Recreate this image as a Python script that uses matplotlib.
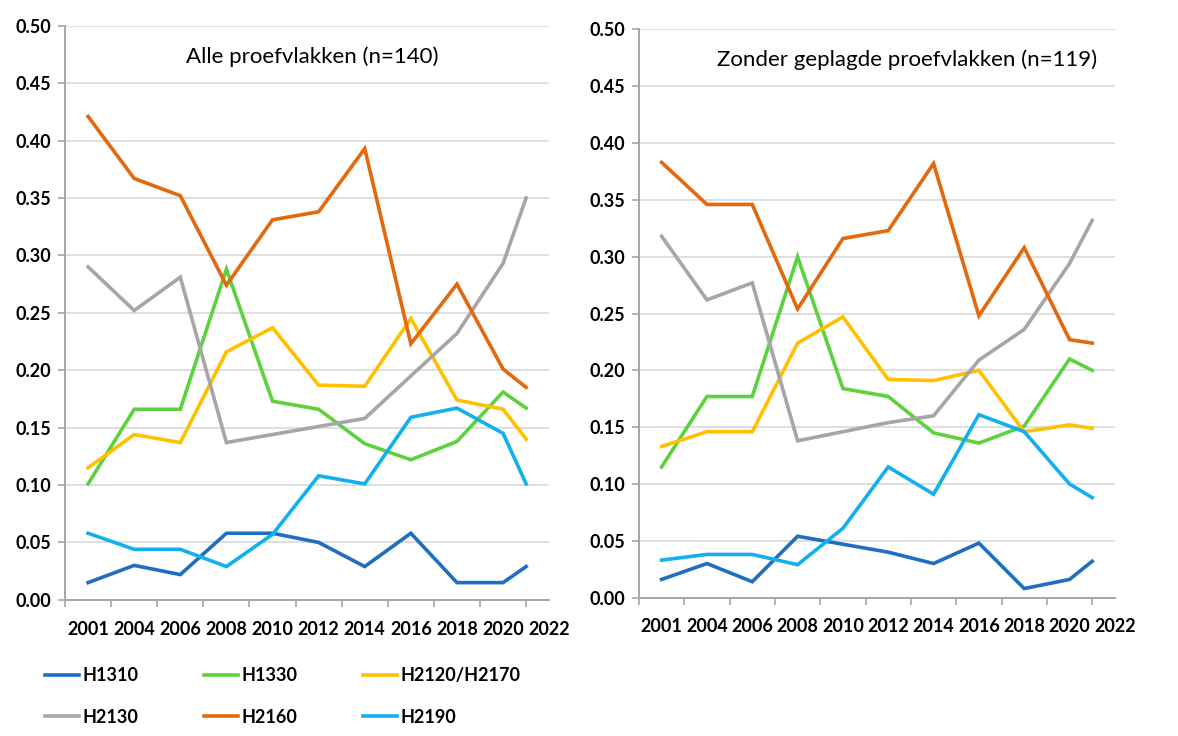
import numpy as np
import matplotlib.pyplot as plt

plt.rcParams['font.family'] = ['Lato', 'DejaVu Sans']

# x axis labels (category slots) and the years that were actually surveyed
label_years = [2001, 2004, 2006, 2008, 2010, 2012, 2014, 2016, 2018, 2020, 2022]
survey_years = [2001, 2004, 2006, 2008, 2010, 2012, 2014, 2016, 2018, 2020, 2021]

series_names = ["H1310", "H1330", "H2120/H2170", "H2130", "H2160", "H2190"]

# Alle proefvlakken (n=140)
all_h1310 = [0.015, 0.030, 0.022, 0.058, 0.058, 0.050, 0.029, 0.058, 0.015, 0.015, 0.029]
all_h1330 = [0.101, 0.166, 0.166, 0.288, 0.173, 0.166, 0.136, 0.122, 0.138, 0.181, 0.167]
all_h2120 = [0.115, 0.144, 0.137, 0.216, 0.237, 0.187, 0.186, 0.245, 0.174, 0.166, 0.140]
all_h2130 = [0.290, 0.252, 0.281, 0.137, 0.144, 0.151, 0.158, 0.195, 0.232, 0.293, 0.350]
all_h2160 = [0.421, 0.367, 0.352, 0.274, 0.331, 0.338, 0.393, 0.223, 0.275, 0.201, 0.185]
all_h2190 = [0.058, 0.044, 0.044, 0.029, 0.057, 0.108, 0.101, 0.159, 0.167, 0.145, 0.101]

# Zonder geplagde proefvlakken (n=119)
zg_h1310 = [0.016, 0.030, 0.014, 0.054, 0.047, 0.040, 0.030, 0.048, 0.008, 0.016, 0.032]
zg_h1330 = [0.115, 0.177, 0.177, 0.300, 0.184, 0.177, 0.145, 0.136, 0.151, 0.210, 0.200]
zg_h2120 = [0.133, 0.146, 0.146, 0.224, 0.247, 0.192, 0.191, 0.200, 0.146, 0.152, 0.149]
zg_h2130 = [0.318, 0.262, 0.277, 0.138, 0.146, 0.154, 0.160, 0.209, 0.236, 0.294, 0.332]
zg_h2160 = [0.383, 0.346, 0.346, 0.254, 0.316, 0.323, 0.382, 0.248, 0.308, 0.227, 0.224]
zg_h2190 = [0.033, 0.038, 0.038, 0.029, 0.061, 0.115, 0.091, 0.161, 0.146, 0.100, 0.088]

colors = ["#1f6fc0", "#5cd23e", "#ffc000", "#a6a6a6", "#e2690d", "#12b0ee"]

panels = [
    ("Alle proefvlakken (n=140)",
     [all_h1310, all_h1330, all_h2120, all_h2130, all_h2160, all_h2190]),
    ("Zonder geplagde proefvlakken (n=119)",
     [zg_h1310, zg_h1330, zg_h2120, zg_h2130, zg_h2160, zg_h2190]),
]

fig = plt.figure(figsize=(11.78, 7.36), dpi=100)
axes_rects = [[0.0552, 0.185, 0.411, 0.780], [0.5424, 0.188, 0.404, 0.772]]
xlims = [10.28, 10.06]
title_x = [0.51, 0.563]

# label slots sit in the middle of each category; years are placed on that scale
slots = np.arange(len(label_years)) + 0.5
xs = np.interp(survey_years, label_years, slots)

handles = []
for i, (title, data) in enumerate(panels):
    ax = fig.add_axes(axes_rects[i])
    for name, vals, c in zip(series_names, data, colors):
        ln, = ax.plot(xs, vals, color=c, lw=2.6, solid_joinstyle='miter', label=name)
        if i == 0:
            handles.append(ln)

    ax.set_ylim(0, 0.5)
    ax.set_xlim(0, xlims[i])
    ax.set_yticks(np.arange(0, 0.51, 0.05))
    ax.set_yticklabels([f"{v:.2f}" for v in np.arange(0, 0.51, 0.05)],
                       fontsize=13, fontweight='bold')
    ax.set_xticks(slots)
    ax.set_xticklabels([str(y) for y in label_years], fontsize=13, fontweight='bold')
    ax.set_xticks(np.arange(len(label_years)), minor=True)
    ax.tick_params(axis='x', which='major', length=0, pad=15)
    ax.tick_params(axis='x', which='minor', length=5, color='#a6a6a6', width=1.2)
    ax.tick_params(axis='y', length=5, color='#a6a6a6', width=1.2, pad=5)

    ax.grid(axis='y', color='#dcdcdc', lw=1.3)
    ax.set_axisbelow(True)
    for s in ['top', 'right']:
        ax.spines[s].set_visible(False)
    for s in ['left', 'bottom']:
        ax.spines[s].set_color('#a6a6a6')
        ax.spines[s].set_linewidth(1.4)

    ax.text(title_x[i], 0.946, title, transform=ax.transAxes,
            ha='center', va='center', fontsize=16)

# legend reads row-wise in the reference, matplotlib fills column-wise
order = [0, 3, 1, 4, 2, 5]
fig.legend([handles[k] for k in order], [series_names[k] for k in order],
           loc='upper left', bbox_to_anchor=(0.032, 0.103), ncol=3, frameon=False,
           prop={'size': 13, 'weight': 'bold'}, handlelength=1.9, handletextpad=0.2,
           columnspacing=3.6, labelspacing=1.35, borderaxespad=0)

fig.savefig("out.png", dpi=100)
